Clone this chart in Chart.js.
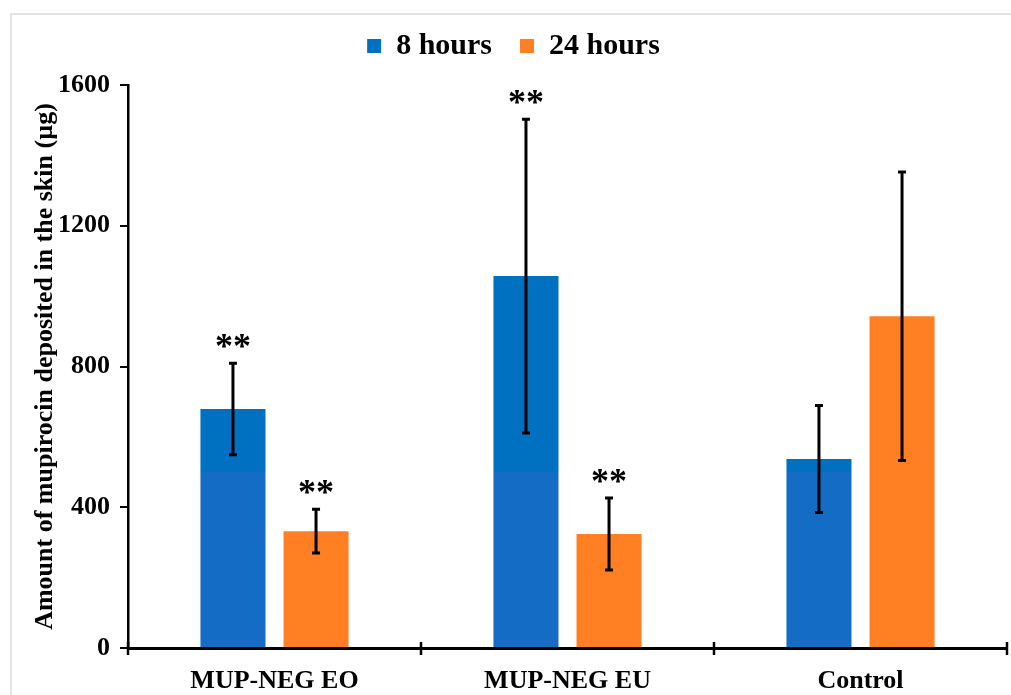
<!DOCTYPE html>
<html>
<head>
<meta charset="utf-8">
<script src="https://cdn.jsdelivr.net/npm/chart.js@4.4.1/dist/chart.umd.min.js"></script>
<style>
  html, body { margin: 0; padding: 0; background: #fff; }
  #wrap { width: 1011px; height: 695px; }
</style>
</head>
<body>
<div id="wrap"><canvas id="grafico" width="1011" height="695"></canvas></div>
<script>
// dados
const categorias = ['MUP-NEG EO', 'MUP-NEG EU', 'Control'];
const horas8 = [679, 1057, 537];
const horas24 = [332, 324, 943];
const erro8 = [130, 446, 152];
const erro24 = [62, 102, 410];
const sig8 = ['**', '**', ''];
const sig24 = ['**', '**', ''];
const ticksY = [0, 400, 800, 1200, 1600];

const azul = '#0070c0';
const azulBaixo = '#156cc4';
const laranja = '#ff7f22';
const fonte = "'Liberation Serif', 'Times New Roman', serif";

// azul em dois tons (quebra em 500 como na figura)
function corAzul(ctx) {
  const chart = ctx.chart;
  const area = chart.chartArea;
  if (!area) return azul;
  const y500 = chart.scales.y.getPixelForValue(500);
  const t = Math.min(1, Math.max(0, (y500 - area.top) / (area.bottom - area.top)));
  const g = chart.ctx.createLinearGradient(0, area.top, 0, area.bottom);
  g.addColorStop(0, azul);
  g.addColorStop(t, azul);
  g.addColorStop(t, azulBaixo);
  g.addColorStop(1, azulBaixo);
  return g;
}

// espaço extra abaixo da legenda
const folgaLegenda = {
  id: 'folgaLegenda',
  beforeInit(chart) {
    const leg = chart.legend;
    if (!leg) return;
    const fitOrig = leg.fit;
    leg.fit = function () {
      fitOrig.call(this);
      this.height += 14;
    };
  }
};

// moldura, barras de erro, asteriscos e marcas do eixo x
const extras = {
  id: 'extras',
  beforeDraw(chart) {
    const c = chart.ctx;
    c.save();
    c.strokeStyle = '#dcdcdc';
    c.lineWidth = 1.5;
    c.beginPath();
    c.moveTo(11, 700);
    c.lineTo(11, 14);
    c.lineTo(1020, 14);
    c.stroke();
    c.restore();
  },
  afterDatasetsDraw(chart) {
    const c = chart.ctx;
    const y = chart.scales.y;
    const x = chart.scales.x;
    const erros = [erro8, erro24];
    const sigs = [sig8, sig24];
    c.save();
    c.strokeStyle = '#000';
    c.lineWidth = 3;
    chart.data.datasets.forEach((ds, i) => {
      const meta = chart.getDatasetMeta(i);
      meta.data.forEach((bar, j) => {
        const v = ds.data[j];
        const e = erros[i][j];
        const yt = y.getPixelForValue(v + e);
        const yb = y.getPixelForValue(v - e);
        c.beginPath();
        c.moveTo(bar.x, yt);
        c.lineTo(bar.x, yb);
        c.moveTo(bar.x - 4, yt);
        c.lineTo(bar.x + 4, yt);
        c.moveTo(bar.x - 4, yb);
        c.lineTo(bar.x + 4, yb);
        c.stroke();
        if (sigs[i][j]) {
          c.fillStyle = '#000';
          c.font = 'bold 36px ' + fonte;
          c.textAlign = 'center';
          c.textBaseline = 'alphabetic';
          c.fillText(sigs[i][j], bar.x, yt - 5);
        }
      });
    });
    // marcas cruzadas entre categorias
    const base = y.getPixelForValue(0);
    const n = categorias.length;
    c.lineWidth = 2.5;
    for (let k = 0; k <= n; k++) {
      const px = x.getPixelForValue(k - 0.5);
      c.beginPath();
      c.moveTo(px, base - 6);
      c.lineTo(px, base + 7);
      c.stroke();
    }
    c.restore();
  }
};

const grafico = new Chart(document.getElementById('grafico').getContext('2d'), {
  type: 'bar',
  data: {
    labels: categorias,
    datasets: [
      { label: '8 hours', data: horas8, backgroundColor: corAzul },
      { label: '24 hours', data: horas24, backgroundColor: laranja }
    ]
  },
  options: {
    responsive: false,
    animation: false,
    categoryPercentage: 0.567,
    barPercentage: 0.783,
    layout: { padding: { top: 3, left: 20, right: 4, bottom: 0 } },
    plugins: {
      tooltip: { enabled: false },
      legend: {
        position: 'top',
        labels: {
          color: '#000',
          font: { family: fonte, size: 30, weight: 'bold' },
          boxWidth: 14,
          boxHeight: 14,
          padding: 28,
          generateLabels: () => [
            { text: '8 hours', fillStyle: azul, strokeStyle: azul, lineWidth: 0, datasetIndex: 0 },
            { text: '24 hours', fillStyle: laranja, strokeStyle: laranja, lineWidth: 0, datasetIndex: 1 }
          ]
        }
      }
    },
    scales: {
      x: {
        grid: { display: false, offset: true },
        border: { display: true, color: '#000', width: 3 },
        ticks: {
          color: '#000',
          padding: 10,
          font: { family: fonte, size: 26, weight: 'bold' }
        },
        afterFit: (s) => { s.height = 47; }
      },
      y: {
        min: 0,
        max: 1600,
        afterBuildTicks: (s) => { s.ticks = ticksY.map(v => ({ value: v })); },
        grid: { drawOnChartArea: false, drawTicks: true, tickLength: 8, color: '#000', lineWidth: 2 },
        border: { display: true, color: '#000', width: 2.5 },
        ticks: {
          color: '#000',
          padding: 10,
          font: { family: fonte, size: 26, weight: 'bold' },
          callback: (v) => String(v)
        },
        title: {
          display: true,
          text: 'Amount of mupirocin deposited in the skin (µg)',
          color: '#000',
          font: { family: fonte, size: 26, weight: 'bold' },
          padding: { top: 10, bottom: 0 }
        },
        afterFit: (s) => { s.width = 108; }
      }
    }
  },
  plugins: [folgaLegenda, extras]
});
</script>
</body>
</html>
